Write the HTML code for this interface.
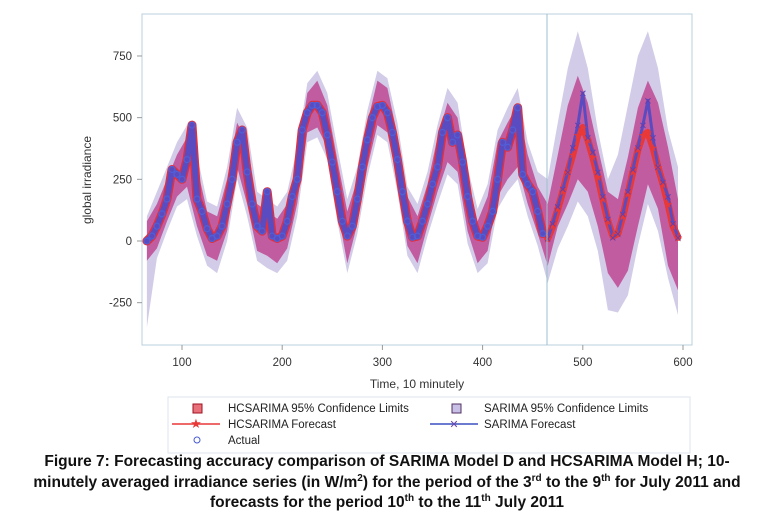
<!DOCTYPE html>
<html><head><meta charset="utf-8"><style>
body{margin:0;background:#fff;width:774px;height:522px;overflow:hidden;font-family:"Liberation Sans",sans-serif}
svg text{font-family:"Liberation Sans",sans-serif}
.cap{position:absolute;left:0;width:774px;text-align:center;font-family:"Liberation Sans Narrow","Liberation Sans",sans-serif;font-weight:bold;font-size:15.5px;color:#111;line-height:20.5px;top:452px}
sup{font-size:10px;line-height:0}
</style></head><body>
<svg id="chart" width="774" height="455" style="position:absolute;left:0;top:0">
<rect x="142" y="14" width="550" height="331" fill="#fff" stroke="#b8cfdc"/>
<g id="bands"></g><g id="series"></g><g id="axes"></g>
<line x1="547" y1="14" x2="547" y2="345" stroke="#9fbfd0" stroke-width="1"/>
<text x="0" y="0" transform="translate(91,180) rotate(-90)" text-anchor="middle" font-size="12" fill="#333">global irradiance</text>
<text x="417" y="388" text-anchor="middle" font-size="12" fill="#333">Time, 10 minutely</text>
<g>
<rect x="168" y="397" width="522" height="56" fill="none" stroke="#dde6ec"/>
<g><rect x="193" y="404" width="9" height="9" fill="#e8707a" stroke="#a01020"/><text x="228" y="412" font-size="11.5" fill="#222">HCSARIMA 95% Confidence Limits</text></g>
<g><rect x="452" y="404" width="9" height="9" fill="#c8c0e6" stroke="#503060"/><text x="484" y="412" font-size="11.5" fill="#222">SARIMA 95% Confidence Limits</text></g>
<g><line x1="172" y1="424" x2="220" y2="424" stroke="#e83838" stroke-width="1.5"/><text x="196" y="428" text-anchor="middle" font-size="13" fill="#e83838">★</text><text x="228" y="428" font-size="11.5" fill="#222">HCSARIMA Forecast</text></g>
<g><line x1="430" y1="424" x2="478" y2="424" stroke="#3a50c0" stroke-width="1.5"/><text x="454" y="428" text-anchor="middle" font-size="11" fill="#6a4aa8">✕</text><text x="484" y="428" font-size="11.5" fill="#222">SARIMA Forecast</text></g>
<g><circle cx="197" cy="440" r="3" fill="none" stroke="#4a5ad0" stroke-width="1"/><text x="228" y="444" font-size="11.5" fill="#222">Actual</text></g>
</g>
</svg>
<div class="cap">Figure 7: Forecasting accuracy comparison of SARIMA Model D and HCSARIMA Model H; 10-<br>minutely averaged irradiance series (in W/m<sup>2</sup>) for the period of the 3<sup>rd</sup> to the 9<sup>th</sup> for July 2011 and<br>forecasts for the period 10<sup>th</sup> to the 11<sup>th</sup> July 2011</div>
<script>
const actualTimes=[65,70,75,80,85,90,95,100,105,110,115,120,125,130,135,140,145,150,155,160,165,170,175,180,185,190,195,200,205,210,215,220,225,230,235,240,245,250,255,260,265,270,275,280,285,290,295,300,305,310,315,320,325,330,335,340,345,350,355,360,365,370,375,380,385,390,395,400,405,410,415,420,425,430,435,440,445,450,455,460];
const actualValues=[0,20,60,110,170,290,270,250,330,470,170,120,50,10,20,60,150,250,400,450,280,150,60,40,200,20,10,20,80,180,250,450,520,550,550,520,430,320,200,80,20,60,170,300,410,500,545,550,520,440,330,200,80,15,20,80,150,230,300,440,500,400,430,320,180,80,20,15,60,120,250,400,380,450,540,270,230,200,120,30];
const fcTimes=[465,470,475,480,485,490,495,500,505,510,515,520,525,530,535,540,545,550,555,560,565,570,575,580,585,590,595];
const hcForecast=[10,60,130,200,280,350,430,460,410,340,260,170,80,20,30,100,190,280,370,430,440,380,300,230,150,60,15];
const sarForecast=[10,70,140,210,280,380,470,600,420,360,280,180,90,15,30,110,200,290,380,470,570,420,300,240,180,70,15];
const bandTimes=[65,75,85,95,105,115,125,135,145,155,165,175,185,195,205,215,225,235,245,255,265,275,285,295,305,315,325,335,345,355,365,375,385,395,405,415,425,435,445,455,465,475,485,495,505,515,525,535,545,555,565,575,585,595];
const hcUpper=[80,150,250,350,420,300,120,100,250,480,400,150,120,90,150,330,600,650,550,330,120,250,480,650,620,430,180,100,230,420,560,500,250,80,180,400,480,550,350,220,150,350,550,670,560,380,200,170,340,540,650,560,380,170];
const hcLower=[-80,-30,80,180,220,60,-60,-80,40,300,150,-40,-60,-90,-30,150,440,460,380,130,-90,70,300,470,440,240,-20,-90,60,200,320,280,40,-90,-40,180,250,300,150,30,-100,60,150,250,200,60,-130,-190,-120,60,230,130,-100,-200];
const sarUpper=[100,200,300,400,470,350,160,140,300,540,460,200,170,140,200,380,640,690,600,380,170,300,530,690,660,480,220,150,280,470,620,560,300,130,230,450,540,620,400,280,250,480,700,850,700,450,250,350,550,750,850,700,450,300];
const sarLower=[-350,-70,40,140,170,20,-100,-130,0,250,100,-80,-110,-130,-80,100,400,420,330,80,-130,30,260,430,400,200,-60,-130,20,150,270,230,-10,-130,-90,130,200,250,100,-20,-170,-30,60,160,100,-40,-280,-290,-220,-20,150,40,-150,-300];
const xTicks=[100,200,300,400,500,600];
const yTicks=[750,500,250,0,-250];

const NS='http://www.w3.org/2000/svg';
const X=t=>182+(t-100)*1.002;
const Y=v=>241-v*0.2467;
function mk(tag,attrs,parent){const e=document.createElementNS(NS,tag);for(const k in attrs)e.setAttribute(k,attrs[k]);parent.appendChild(e);return e;}
const bands=document.getElementById('bands'),series=document.getElementById('series'),axes=document.getElementById('axes');

function band(up,lo,fill,name){
  let d='M'+bandTimes.map((t,i)=>X(t).toFixed(1)+','+Y(up[i]).toFixed(1)).join('L');
  for(let i=bandTimes.length-1;i>=0;i--)d+='L'+X(bandTimes[i]).toFixed(1)+','+Y(lo[i]).toFixed(1);
  const p=mk('path',{d:d+'Z',fill:fill},bands);
  
  
}
band(sarUpper,sarLower,'#d2cce8','sarima-confidence-band');
band(hcUpper,hcLower,'rgba(190,60,140,0.78)','hcsarima-confidence-band');

function line(ts,vs,color,w,name){
  const p=mk('polyline',{points:ts.map((t,i)=>X(t).toFixed(1)+','+Y(vs[i]).toFixed(1)).join(' '),fill:'none',stroke:color,'stroke-width':w,'stroke-linejoin':'round','stroke-linecap':'round'},series);
  
  
}
// historical fitted cores
line(actualTimes,actualValues,'#e03040',9,'hcsarima-fit-core');
line(actualTimes,actualValues,'#5a4cc0',6,'sarima-fit-core');
line(fcTimes,hcForecast,'#e83838',7,'hcsarima-forecast-line');
line(fcTimes,sarForecast,'#5a4cc0',3,'sarima-forecast-line');

fcTimes.forEach((t,i)=>{
  const s=mk('text',{x:X(t),y:Y(hcForecast[i])+4,'text-anchor':'middle','font-size':11,fill:'#e83838'},series);s.textContent='★';
  
  
  const c=mk('text',{x:X(t),y:Y(sarForecast[i])+4,'text-anchor':'middle','font-size':10,fill:'#6040b0'},series);c.textContent='✕';
  
  
});
actualTimes.forEach((t,i)=>{
  const c=mk('circle',{cx:X(t),cy:Y(actualValues[i]),r:3,fill:'none',stroke:'#5060d8','stroke-width':1.2},series);
  
  
});

xTicks.forEach(v=>{
  const l=mk('line',{x1:X(v),x2:X(v),y1:345,y2:350,stroke:'#999'},axes);
  
  
  const tx=mk('text',{x:X(v),y:366,'text-anchor':'middle','font-size':11.5,fill:'#333'},axes);tx.textContent=v;
  
  
});
yTicks.forEach(v=>{
  const l=mk('line',{x1:137,x2:142,y1:Y(v),y2:Y(v),stroke:'#999'},axes);
  
  
  const tx=mk('text',{x:132,y:Y(v)+4,'text-anchor':'end','font-size':11.5,fill:'#333'},axes);tx.textContent=v;
  
  
});
</script>
</body></html>
